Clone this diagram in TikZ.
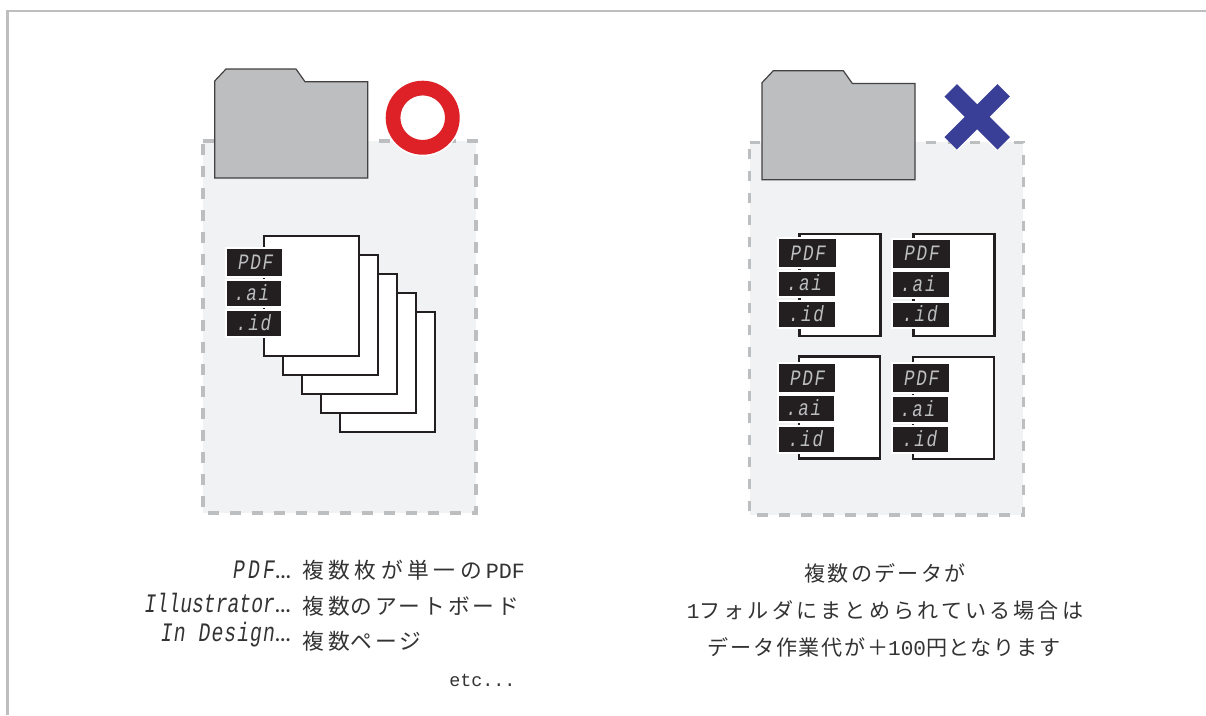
\documentclass[tikz,border=0pt]{standalone}
\usepackage{fontspec}
\usetikzlibrary{calc}
\setmainfont{Liberation Mono}
\newfontfamily\jpwide[LetterSpace=21]{Noto Sans CJK JP}
\newfontfamily\jptight[LetterSpace=14]{Noto Sans CJK JP}
\newfontfamily\jpa[LetterSpace=11]{Noto Sans CJK JP}
\newfontfamily\jpb[LetterSpace=15]{Noto Sans CJK JP}
\newfontfamily\jpc[LetterSpace=8]{Noto Sans CJK JP}
\newfontfamily\narrowfont{Liberation Mono}
\newfontfamily\tagfont[FakeStretch=0.8,LetterSpace=8,ItalicFont={Liberation Mono Italic}]{Liberation Mono}
\newfontfamily\namefont[FakeStretch=0.74,ItalicFont={Liberation Mono Italic}]{Liberation Mono}
\newfontfamily\pdfname[FakeStretch=0.74,LetterSpace=12,ItalicFont={Liberation Mono Italic}]{Liberation Mono}
\newfontfamily\idname[FakeStretch=0.74,LetterSpace=4,ItalicFont={Liberation Mono Italic}]{Liberation Mono}
\definecolor{inkk}{HTML}{231F20}
\definecolor{greyy}{HTML}{BCBEC0}
\definecolor{panelc}{HTML}{F1F2F4}
\definecolor{redd}{HTML}{DD2127}
\definecolor{bluee}{HTML}{393F97}
\definecolor{textc}{HTML}{333333}
\tikzset{
  panelbox/.style={fill=panelc},
  paneledge/.style={draw=greyy,line width=2.3pt,dash pattern=on 8pt off 8.5pt},
  folder/.style={fill=greyy,draw=inkk!85,line width=0.9pt,line join=miter},
  sheet/.style={fill=white,draw=inkk,line width=2.1pt,line join=miter},
  sheetsmall/.style={fill=white,draw=inkk,line width=1.8pt,line join=miter},
  tagbox/.style={fill=inkk,draw=white,line width=1.5pt,inner sep=0pt,outer sep=0pt},
  tagtext/.style={text=greyy,inner sep=0pt,font=\tagfont\itshape\fontsize{16.5pt}{18pt}\selectfont},
  jpleft/.style={text=textc,inner sep=0pt,anchor=west,font=\jpwide\fontsize{16.3pt}{18pt}\selectfont},
  jpcentre/.style={text=textc,inner sep=0pt,font=\fontsize{15.8pt}{18pt}\selectfont},
  appname/.style={text=textc,inner sep=0pt,anchor=east,font=\namefont\itshape\fontsize{20pt}{22pt}\selectfont},
  etcnote/.style={text=textc,inner sep=0pt,anchor=west,font=\fontsize{13.8pt}{18pt}\selectfont},
  pageframe/.style={draw=greyy,line width=2.2pt}
}
\newcommand{\elldots}{{\jpa\bfseries\fontsize{10.5pt}{12pt}\selectfont …}}
% #1 name, #2 left x, #3 visible width, #4 top y, #5 PDF height, #6 .ai top, #7 .id top
\newcommand{\filetags}[7]{%
  \pgfmathsetlengthmacro{\wA}{(#3+2)*0.75pt}
  \pgfmathsetlengthmacro{\wB}{(#3+1)*0.75pt}
  \pgfmathsetlengthmacro{\hA}{(#5+2)*0.75pt}
  \node[tagbox,minimum width=\wA,minimum height=\hA] (#1p) at ({#2+#3/2},{#4+#5/2}) {};
  \node[tagtext] (#1pt) at ($(#1p.west)+(30,0)$) {PDF};
  \node[tagbox,minimum width=\wB,minimum height=20pt] (#1a) at ({#2+#3/2-.5},{#6+12.25}) {};
  \node[tagtext] (#1at) at ($(#1a.west)+(26,-1)$) {.ai};
  \node[tagbox,minimum width=\wB,minimum height=20pt] (#1i) at ({#2+#3/2-.5},{#7+12.25}) {};
  \node[tagtext] (#1it) at ($(#1i.west)+(28,-1)$) {.id};
}
\begin{document}
\begin{tikzpicture}[x=0.75pt,y=-0.75pt]
\useasboundingbox (0,0) rectangle (1206,715);
\fill[white] (0,0) rectangle (1206,715);
\draw[pageframe] (7.5,715) -- (7.5,11) -- (1206,11);

% left panel
\fill[panelbox] (203,141) rectangle (476,513);
\draw[paneledge] (203,141) -- (476,141) -- (476,513) -- (203,513) -- cycle;
\draw[folder] (214.7,81) -- (226,69) -- (296,69) -- (305,81.7) -- (367.7,81.7) -- (367.7,178) -- (214.7,178) -- cycle;
\fill[white] (422.7,117.7) circle (38.5);
\fill[redd,even odd rule] (422.7,117.7) circle (37) (422.7,117.7) circle (22.3);

\draw[sheet] (340,312) rectangle (435,432);
\draw[sheet] (321,293) rectangle (416,413);
\draw[sheet] (302,274) rectangle (397,394);
\draw[sheet] (283,255) rectangle (378,375);
\draw[sheet] (264,236) rectangle (359,356);
\filetags{L}{226.7}{55.5}{249}{27}{281}{311.5}

% right panel
\fill[panelbox] (749.5,142.3) rectangle (1023.3,515);
\draw[paneledge] (749.5,142.3) -- (1023.3,142.3) -- (1023.3,515) -- (749.5,515) -- cycle;
\draw[folder] (762,82.7) -- (773.3,70.7) -- (843.3,70.7) -- (852.3,83.4) -- (915,83.4) -- (915,179.7) -- (762,179.7) -- cycle;
\draw[white,line width=15.5pt] (950.7,90.3) -- (1003.7,143.3) (1003.7,90.3) -- (950.7,143.3);
\draw[bluee,line width=13.2pt] (950.7,90.3) -- (1003.7,143.3) (1003.7,90.3) -- (950.7,143.3);

\draw[sheetsmall] (799.3,233.7) rectangle (880.3,336);
\filetags{A}{779.3}{56.7}{239}{28.3}{271.7}{302.3}
\draw[sheetsmall] (913.3,234) rectangle (994.3,336);
\filetags{B}{893}{56.7}{239.5}{28.3}{272}{302.7}
\draw[sheetsmall] (799,356.3) rectangle (880,458.3);
\filetags{C}{778.7}{56.7}{363.7}{28.3}{396.5}{427}
\draw[sheetsmall] (913,357) rectangle (994,459);
\filetags{D}{892.7}{56.7}{364}{28.3}{397}{427.5}

% left caption
\node[appname] (n1) at (291,570) {{\pdfname\itshape PDF}\elldots};
\node[appname] (n2) at (291,603) {Illustrator\elldots};
\node[appname] (n3) at (291,635) {{\idname\itshape In Design}\elldots};
\node[jpleft] (d1) at (302,570) {複数枚が単一の\kern3pt{\narrowfont PDF}};
\node[jpleft] (d2) at (302,606) {複数{\jptight のアートボード}};
\node[jpleft] (d3) at (302,641) {複数{\jptight ページ}};
\node[etcnote] (etc) at (449,680) {etc...};

% right caption
\node[jpcentre] (r1) at (885,573) {\jpa 複数のデータが};
\node[jpcentre] (r2) at (885,610) {\jpb {\narrowfont 1}フォルダにまとめられている場合は};
\node[jpcentre] (r3) at (884,647) {\jpc データ作業代が＋{\narrowfont 100}円となります};
\end{tikzpicture}
\end{document}
